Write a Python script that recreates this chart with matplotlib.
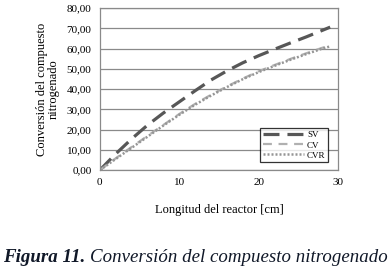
import matplotlib.pyplot as plt
import numpy as np

# reactor length [cm]
x = [0, 2, 4, 6, 8, 10, 12, 14, 16, 18, 20, 22, 24, 26, 28, 29]
# conversion of the nitrogen compound
sv = [0, 8.0, 15.4, 22.2, 28.2, 33.7, 39.2, 44.5, 49.0, 53.0, 56.5, 59.7, 62.8, 65.8, 69.0, 70.6]
cv = [0, 5.8, 11.4, 16.9, 22.3, 27.7, 32.7, 37.2, 41.3, 45.2, 48.8, 51.9, 54.9, 57.7, 60.4, 61.5]
cvr = [0, 5.5, 11.0, 16.5, 22.0, 27.3, 32.3, 36.8, 41.0, 44.9, 48.4, 51.5, 54.5, 57.3, 60.0, 61.1]

yticks = np.arange(0, 81, 10)
ylabels = ['{:.2f}'.format(v).replace('.', ',') for v in yticks]

plt.rcParams['font.family'] = ['Liberation Serif', 'DejaVu Serif']

fig = plt.figure(figsize=(3.9, 2.7), dpi=100)
ax = fig.add_axes([0.256, 0.370, 0.611, 0.600])

ax.plot(x, sv, color='#575757', lw=2.3, dashes=(5, 2.5), label='SV')
ax.plot(x, cv, color='#b0b0b0', lw=1.6, dashes=(4, 3), label='CV')
ax.plot(x, cvr, color='#959595', lw=1.8, dashes=(0.8, 0.8), label='CVR')

ax.set_xlim(0, 30)
ax.set_ylim(0, 80)
ax.set_xticks([0, 10, 20, 30])
ax.set_yticks(yticks)
ax.set_yticklabels(ylabels)
ax.tick_params(length=0, labelsize=8, pad=6)
ax.yaxis.grid(True, color='#8a8a8a', lw=0.9)
ax.set_axisbelow(True)
for s in ax.spines.values():
    s.set_color('#8a8a8a')
    s.set_linewidth(0.9)

ax.set_xlabel('Longitud del reactor [cm]', fontsize=9, labelpad=12)
ax.set_ylabel('Conversión del compuesto\nnitrogenado', fontsize=9,
              labelpad=5, linespacing=1.0)

leg = ax.legend(loc='lower right', fontsize=6.5, frameon=True, fancybox=False,
                handlelength=4.6, borderpad=0.3, labelspacing=0.2,
                handletextpad=0.3, bbox_to_anchor=(0.977, 0.02))
leg.get_frame().set_edgecolor('black')
leg.get_frame().set_linewidth(0.9)

t1 = fig.text(0.008, 0.03, 'Figura 11. ', fontsize=13.6, style='italic',
              weight='bold', color='#101828')
fig.canvas.draw()
bb = t1.get_window_extent().transformed(fig.transFigure.inverted())
fig.text(bb.x1, 0.03, 'Conversión del compuesto nitrogenado', fontsize=13.6,
         style='italic', color='#101828')

fig.savefig('out.png', dpi=100)
